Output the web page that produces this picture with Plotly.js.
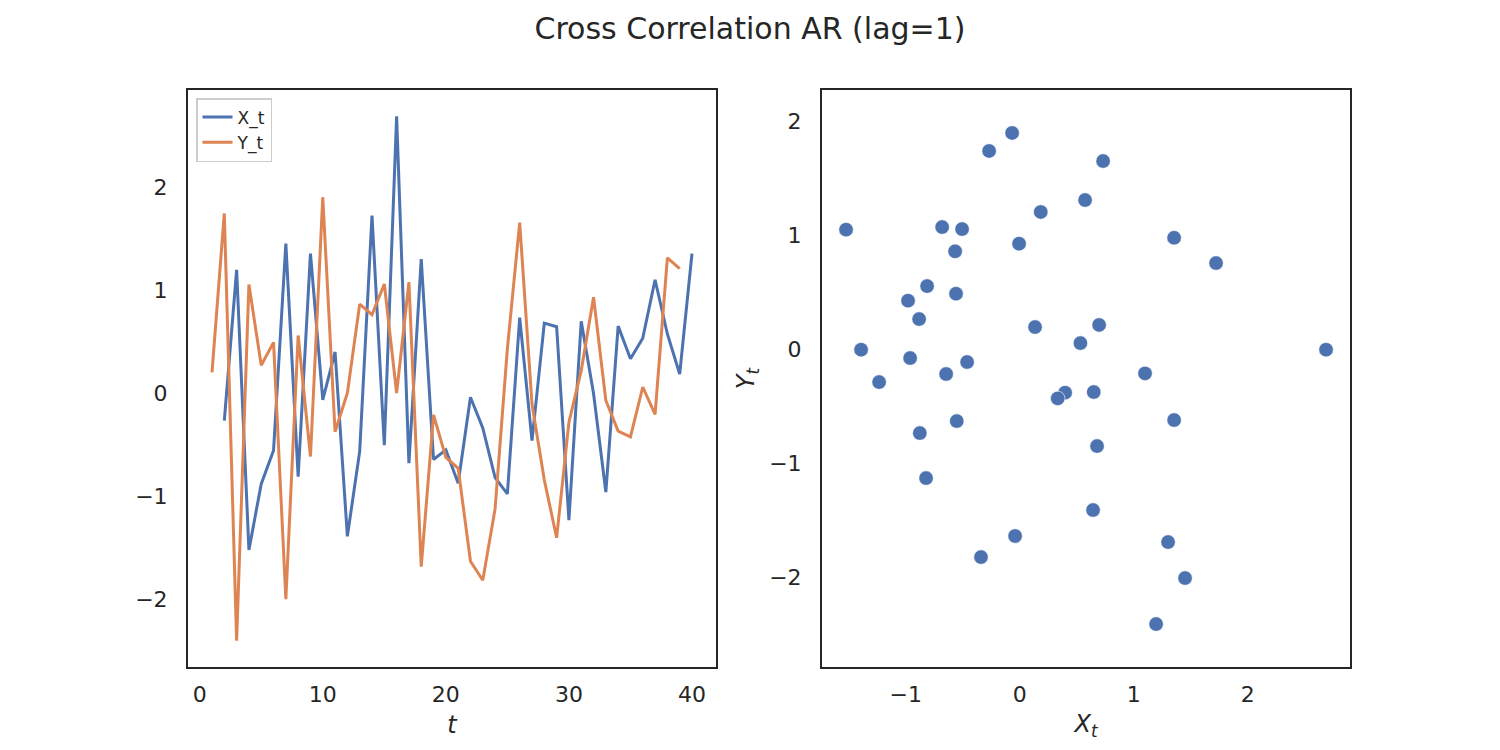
<!DOCTYPE html>
<html>
<head>
<meta charset="utf-8">
<script src="https://cdn.plot.ly/plotly-3.0.1.min.js"></script>
<style>html,body{margin:0;padding:0;background:#fff;}#chart{width:1500px;height:750px;}</style>
</head>
<body>
<div id="chart"></div>
<script>
// time index t = 1..40
const t = [1,2,3,4,5,6,7,8,9,10,11,12,13,14,15,16,17,18,19,20,21,22,23,24,25,26,27,28,29,30,31,32,33,34,35,36,37,38,39,40];
// X_t series
const X = [0.134,-0.269,1.196,-1.524,-0.883,-0.559,1.450,-0.813,1.354,-0.067,
           0.398,-1.392,-0.567,1.722,-0.506,2.687,-0.681,1.301,-0.646,-0.553,
           -0.877,-0.041,-0.340,-0.822,-0.980,0.731,-0.462,0.678,0.643,-1.234,
           0.696,-0.006,-0.962,0.649,0.333,0.532,1.099,0.573,0.184,1.354];
// Y_t series
const Y = [0.199,1.743,-2.406,1.053,0.269,0.491,-2.003,0.558,-0.617,1.901,
           -0.377,0.000,0.863,0.760,1.058,0.000,1.076,-1.687,-0.213,-0.626,
           -0.731,-1.634,-1.819,-1.126,0.430,1.655,-0.108,-0.845,-1.406,-0.284,
           0.217,0.930,-0.073,-0.371,-0.427,0.058,-0.208,1.313,1.208,0.982];
const xTicks = [0,10,20,30,40];
const yTicksLeft = [-2,-1,0,1,2];
const xTicksRight = [-1,0,1,2];
const yTicksRight = [-2,-1,0,1,2];

const minus = v => String(v).replace('-', '\u2212');
const FONT = 'DejaVu Sans, sans-serif';
const TXT = '#262626';

const traces = [
  {x: t.slice(1), y: X.slice(1), type: 'scatter', mode: 'lines', name: 'X_t',
   line: {color: '#4c72b0', width: 3}, xaxis: 'x', yaxis: 'y'},
  {x: t.slice(0, -1), y: Y.slice(0, -1), type: 'scatter', mode: 'lines', name: 'Y_t',
   line: {color: '#dd8452', width: 3}, xaxis: 'x', yaxis: 'y'},
  {x: X, y: Y, type: 'scatter', mode: 'markers', showlegend: false,
   marker: {color: '#4c72b0', size: 14.5, line: {color: '#ffffff', width: 0.6}},
   xaxis: 'x2', yaxis: 'y2'}
];

const axisBase = {
  showline: true, mirror: true, linecolor: '#262626', linewidth: 2,
  showgrid: false, zeroline: false, ticks: '',
  tickfont: {family: FONT, size: 22, color: TXT},
};

const layout = {
  width: 1500, height: 750,
  margin: {l: 0, r: 0, t: 0, b: 0},
  paper_bgcolor: '#ffffff', plot_bgcolor: '#ffffff',
  font: {family: FONT, color: TXT},
  title: {text: 'Cross Correlation AR (lag=1)', font: {family: FONT, size: 30, color: TXT},
          x: 0.5, xanchor: 'center', xref: 'paper', y: 1 - 28/750, yanchor: 'middle', yref: 'container'},
  xaxis: Object.assign({}, axisBase, {
    domain: [188/1500, 716/1500], range: [-0.95, 41.95], anchor: 'y',
    tickvals: xTicks, ticktext: xTicks.map(minus), ticklabelstandoff: 7,
    title: {text: '<i>t</i>', font: {family: FONT, size: 24, color: TXT}, standoff: 10}
  }),
  yaxis: Object.assign({}, axisBase, {
    domain: [83/750, 660/750], range: [-2.661, 2.942], anchor: 'x',
    tickvals: yTicksLeft, ticktext: yTicksLeft.map(minus), ticklabelstandoff: 14
  }),
  xaxis2: Object.assign({}, axisBase, {
    domain: [822/1500, 1350/1500], range: [-1.735, 2.897], anchor: 'y2',
    tickvals: xTicksRight, ticktext: xTicksRight.map(minus), ticklabelstandoff: 7,
    title: {text: '<i>X</i><sub><i>t</i></sub>', font: {family: FONT, size: 24, color: TXT}, standoff: 9}
  }),
  yaxis2: Object.assign({}, axisBase, {
    domain: [83/750, 660/750], range: [-2.783, 2.278], anchor: 'x2',
    tickvals: yTicksRight, ticktext: yTicksRight.map(minus), ticklabelstandoff: 14,
    title: {text: '<i>Y</i><sub><i>t</i></sub>', font: {family: FONT, size: 24, color: TXT}, standoff: 8}
  }),
  showlegend: true,
  legend: {x: 196/1500, y: 1 - 98/750, xanchor: 'left', yanchor: 'top', xref: 'paper', yref: 'paper',
           bgcolor: 'rgba(255,255,255,0.8)', bordercolor: '#cccccc', borderwidth: 1.5,
           font: {family: FONT, size: 17, color: TXT}, tracegroupgap: 2, itemwidth: 30}
};

Plotly.newPlot('chart', traces, layout, {displayModeBar: false, staticPlot: true});
</script>
</body>
</html>
